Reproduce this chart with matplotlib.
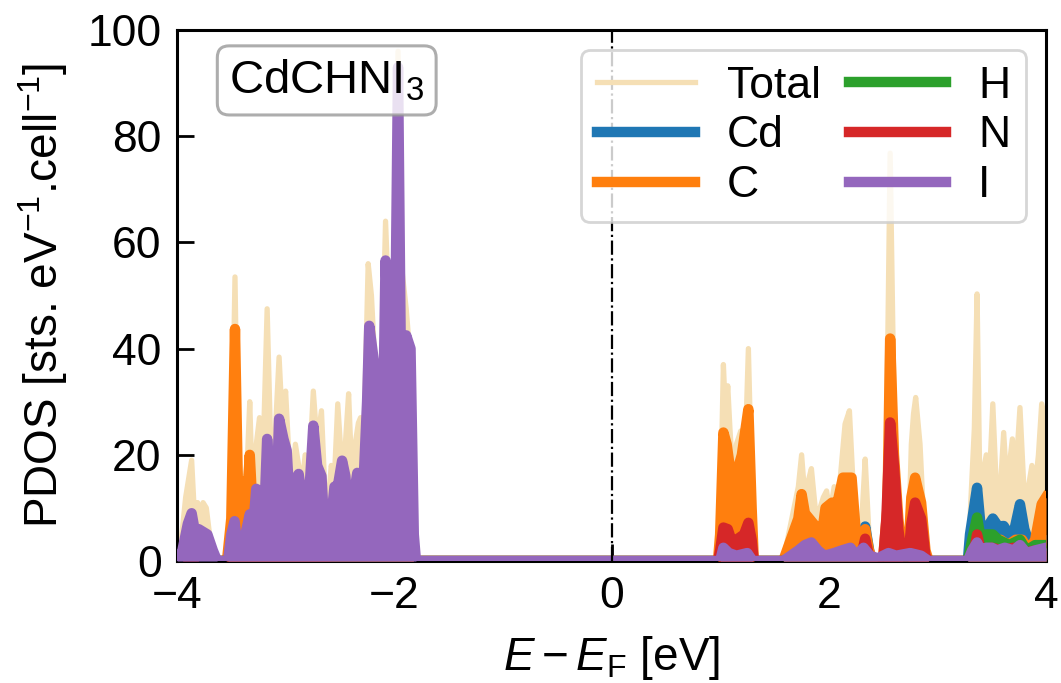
import numpy as np
import matplotlib
matplotlib.use("Agg")
import matplotlib.pyplot as plt

plt.rcParams['font.family'] = ['Liberation Sans', 'DejaVu Sans']
plt.rcParams['mathtext.fontset'] = 'custom'
plt.rcParams['mathtext.rm'] = 'Liberation Sans'
plt.rcParams['mathtext.it'] = 'Liberation Sans:italic'
plt.rcParams['mathtext.bf'] = 'Liberation Sans:bold'

# ---------------- data (energy [eV], PDOS) ----------------
total_E = [-4.0, -3.96, -3.92, -3.865, -3.84, -3.81, -3.79, -3.76, -3.73, -3.70, -3.66, -3.63,
           -3.54, -3.50, -3.466, -3.44, -3.41, -3.38, -3.35, -3.33, -3.31, -3.27, -3.24, -3.21,
           -3.17, -3.14, -3.11, -3.08, -3.06, -3.03, -3.0, -2.97, -2.94, -2.91, -2.88, -2.85,
           -2.82, -2.79, -2.745, -2.71, -2.67, -2.64, -2.61, -2.58, -2.55, -2.52, -2.49, -2.45,
           -2.42, -2.39, -2.36, -2.33, -2.31, -2.28, -2.24, -2.21, -2.18, -2.15, -2.12, -2.08,
           -2.04, -2.01, -1.965, -1.93, -1.89, -1.86, -1.83, -1.80,
           0.98, 1.0, 1.03, 1.05, 1.07, 1.09, 1.12, 1.15, 1.19, 1.23, 1.26, 1.29, 1.31,
           1.58, 1.65, 1.72, 1.75, 1.78, 1.81, 1.84, 1.88, 1.92, 1.95, 1.98, 2.01, 2.05, 2.09,
           2.12, 2.15, 2.19, 2.22, 2.25, 2.28, 2.31, 2.335, 2.37, 2.40, 2.50, 2.53, 2.565,
           2.60, 2.64, 2.68, 2.73, 2.76, 2.78, 2.80, 2.84, 2.88, 2.92,
           3.28, 3.30, 3.34, 3.365, 3.39, 3.42, 3.45, 3.48, 3.51, 3.54, 3.58, 3.61, 3.64,
           3.69, 3.72, 3.76, 3.80, 3.83, 3.87, 3.90, 3.93, 3.96, 4.0]
total = [0, 4, 12, 19, 9, 11, 8, 11, 10, 5, 2, 0,
         0, 12, 53.5, 18, 16, 12, 20, 30, 16, 22, 27, 18,
         47.5, 24, 18, 30, 38.4, 26, 32, 20, 14, 22, 18, 14,
         20, 14, 32, 22, 28.3, 14, 10, 18, 16, 29.6, 20, 22,
         31.5, 16, 22, 26, 27, 22, 56, 50, 38, 33, 30, 64,
         42, 50, 96, 55, 47.5, 40, 10, 0,
         0, 8, 37, 27, 33, 25, 15, 22, 24.5, 20, 40, 15, 0,
         0, 7, 14, 20, 12, 15, 17.4, 9, 10, 12, 13.2, 9, 14, 12,
         19, 25.8, 28.3, 16, 8, 2, 10, 19.2, 5, 0.5, 0.5, 20, 76.8,
         30, 10, 0.5, 0.5, 22, 27.7, 30.8, 22, 5, 0,
         0, 8, 25, 50.3, 15, 16.7, 20, 16, 29.6, 15, 14, 24.2, 14,
         23, 16, 28.9, 12, 13, 18, 14, 20, 29.6, 26]

cd_E = [-4.0, -3.55, -3.40, -3.30, -3.25, -3.20, -3.10, -3.0, -2.9, -2.8, -2.5, -2.3, -2.0, -1.82,
        1.58, 1.70, 1.75, 1.80, 1.85, 1.95, 2.05, 2.15, 2.22, 2.30, 2.335, 2.38, 2.45,
        3.28, 3.30, 3.365, 3.40, 3.45, 3.51, 3.56, 3.61, 3.66, 3.71, 3.76, 3.80, 3.85, 3.9, 4.0]
cd = [0, 0, 1, 3, 4, 3, 1.5, 2, 2.5, 1, 1.5, 1, 1, 0,
      0, 2, 4.4, 3, 1.5, 1, 2, 3, 2, 2, 6.5, 1, 0,
      0, 5, 13.8, 6, 6, 8, 6.5, 6.6, 5, 6, 10.7, 6, 3, 4, 5]

c_E = [-4.0, -3.54, -3.50, -3.466, -3.44, -3.40, -3.37, -3.33, -3.30, -3.26, -3.2, -3.1, -3.0,
       -2.9, -2.8, -2.6, -2.59, -2.55, -2.45, -2.40, -2.35, -2.28, -2.22, -2.15, -2.10, -2.0,
       -1.9, -1.82,
       0.98, 1.0, 1.03, 1.06, 1.09, 1.12, 1.15, 1.20, 1.26, 1.29, 1.31,
       1.58, 1.65, 1.72, 1.75, 1.78, 1.84, 1.90, 1.93, 1.97, 2.03, 2.07, 2.13, 2.21, 2.25,
       2.28, 2.31, 2.335, 2.37, 2.40, 2.50, 2.54, 2.565, 2.60, 2.64, 2.68, 2.73, 2.76, 2.795,
       2.85, 2.89, 2.92,
       3.28, 3.34, 3.40, 3.50, 3.58, 3.65, 3.72, 3.78, 3.84, 3.90, 3.96, 4.0]
c = [0, 0, 8, 43.7, 15, 15, 6, 20, 8, 4, 3, 2, 3,
     3.5, 1, 2, 8, 3, 4, 6.6, 4, 4, 5, 6, 4, 2,
     1, 0,
     0, 5, 24.2, 22, 17.5, 12.6, 16.4, 20, 28.6, 10, 0,
     0, 4, 8, 12.6, 9, 7.5, 6, 4, 10, 11, 10, 15.7, 15.7, 5,
     1, 4, 6, 2, 0.5, 0.5, 10, 41.9, 20, 8, 0.5, 0.5, 12, 15.7,
     11, 2, 0,
     0, 2, 2.5, 3, 4, 3, 4, 4, 2, 4, 10.7, 12]

h_E = [-4.0, -2.6, -2.5, -2.4, -2.3, -2.2, -2.1, -2.0, -1.82,
       1.6, 1.75, 1.85, 2.1, 2.2, 2.3,
       3.28, 3.32, 3.365, 3.40, 3.45, 3.51, 3.56, 3.61, 3.66, 3.71, 3.76, 3.82, 3.9, 4.0]
h = [0, 0, 0.5, 0.3, 1, 0.4, 0.8, 0.3, 0,
     0, 0.5, 0.3, 0.5, 0.8, 0,
     0, 4, 8.2, 4, 5, 5, 4, 3.5, 3, 3.5, 4, 2, 3, 3]

n_E = [-4.0, -3.95, -3.87, -3.80, -3.55, -3.45, -3.35, -3.25, -3.15, -3.05, -2.95, -2.85, -2.7,
       -2.5, -2.40, -2.35, -2.30, -2.25, -2.18, -2.12, -2.05, -2.0, -1.9, -1.82,
       0.98, 1.0, 1.03, 1.07, 1.11, 1.15, 1.22, 1.26, 1.29, 1.31,
       1.58, 1.75, 1.85, 1.95, 2.30, 2.335, 2.37, 2.50, 2.53, 2.565, 2.60, 2.64, 2.68,
       2.73, 2.76, 2.795, 2.85, 2.89, 2.92,
       3.28, 3.34, 3.365, 3.40, 3.5, 3.6, 3.7, 3.8, 3.9, 4.0]
n = [0, 0, 1.5, 0, 0, 2, 3, 2, 3, 2, 1, 2, 1,
     2, 5, 4.5, 3.5, 4.5, 5, 4.5, 3, 4, 1, 0,
     0, 2, 6.3, 6, 3.5, 4, 5, 7.2, 4, 0,
     0, 0.5, 1.5, 0.5, 1, 4.2, 1, 0, 8, 26.1, 18, 6, 0,
     0, 7, 11, 8, 1, 0,
     0, 2, 5, 2, 2.5, 2, 2.5, 1.5, 2, 2]

i_E = [-4.0, -3.95, -3.90, -3.865, -3.83, -3.80, -3.76, -3.72, -3.67, -3.63, -3.53, -3.50,
       -3.47, -3.44, -3.40, -3.37, -3.33, -3.30, -3.27, -3.23, -3.21, -3.17, -3.13, -3.11,
       -3.08, -3.06, -3.02, -2.99, -2.96, -2.94, -2.92, -2.88, -2.85, -2.82, -2.79, -2.745,
       -2.71, -2.67, -2.64, -2.61, -2.58, -2.55, -2.52, -2.48, -2.45, -2.42, -2.39, -2.36,
       -2.34, -2.31, -2.28, -2.25, -2.23, -2.19, -2.16, -2.13, -2.10, -2.08, -2.05, -2.02,
       -1.99, -1.965, -1.94, -1.91, -1.89, -1.85, -1.82, -1.80,
       1.0, 1.03, 1.08, 1.15, 1.25, 1.30, 1.58, 1.65, 1.72, 1.78, 1.84, 1.90, 1.96, 2.05,
       2.12, 2.20, 2.25, 2.32, 2.38, 2.45, 2.55, 2.62, 2.75, 2.85, 2.92,
       3.28, 3.32, 3.365, 3.40, 3.45, 3.5, 3.55, 3.62, 3.7, 3.76, 3.82, 3.9, 4.0]
i_vals = [0, 2, 7, 9, 5, 6, 5.5, 5, 2, 0, 0, 5,
          7.5, 2, 0.5, 5, 8.8, 6, 13.6, 13, 1, 23, 12, 4,
          14, 26.8, 23, 20.8, 10, 2, 15, 16.4, 12, 2, 10, 25.5,
          18, 16, 5, 1, 8, 14, 14, 18.9, 16, 8, 2, 14,
          16.6, 10, 16, 30, 44.3, 38, 30, 5, 30, 56.6, 40, 30,
          45, 93, 40, 30, 42.5, 40, 5, 0,
          0, 2.5, 1.5, 1, 1.5, 0, 0, 1, 2, 3, 3.5, 2, 1, 1.5,
          2, 2.5, 1, 2.5, 1, 0.5, 1.5, 1, 1.5, 1, 0,
          0, 2, 3.5, 2, 2.5, 2.5, 2, 2.5, 2, 3, 1.5, 2, 2.5]

labels = ['Total', 'Cd', 'C', 'H', 'N', 'I']
colors = ['#f5dfb5', '#1f77b4', '#ff7f0e', '#2ca02c', '#d62728', '#9467bd']


def full_range(E, v):
    E = list(E); v = list(v)
    if E[0] > -4.0:
        E = [-4.0] + E; v = [0] + v
    if E[-1] < 4.0:
        E = E + [4.0]; v = v + [0]
    return np.array(E), np.array(v)


series = [(total_E, total), (cd_E, cd), (c_E, c), (h_E, h), (n_E, n), (i_E, i_vals)]

fig, ax = plt.subplots(figsize=(10.61, 6.83), dpi=100)
fig.subplots_adjust(left=0.1668, right=0.9859, bottom=0.1786, top=0.956)

for k, ((E, v), lab, col) in enumerate(zip(series, labels, colors)):
    Ex, vx = full_range(E, v)
    lw = 3.8 if lab == 'Total' else 7.5
    ax.fill_between(Ex, 0, vx, color=col, lw=0, zorder=2 + k)
    ax.plot(Ex, vx, color=col, lw=lw, label=lab, zorder=2 + k)

ax.axvline(0, color='k', ls='-.', lw=1.6, zorder=10)

ax.set_xlim(-4, 4)
ax.set_ylim(0, 100)
ax.set_xticks([-4, -2, 0, 2, 4])
ax.set_xticklabels(['\u22124', '\u22122', '0', '2', '4'])
ax.set_yticks([0, 20, 40, 60, 80, 100])
ax.tick_params(direction='in', length=12, width=2, labelsize=32)
ax.tick_params(axis='x', pad=11)
ax.tick_params(axis='y', pad=11)
for sp in ax.spines.values():
    sp.set_linewidth(2.2)

ax.set_xlabel(r'$E - E_{\mathrm{F}}$ [eV]', fontsize=33, labelpad=12)
ax.set_ylabel(r'PDOS [sts. eV$^{-1}$.cell$^{-1}$]', fontsize=33, labelpad=13)

leg = ax.legend(ncol=2, loc='upper right', fontsize=32, handlelength=2.2,
                handletextpad=0.72, columnspacing=0.63, labelspacing=0.2,
                borderpad=0.35, borderaxespad=0.45, fancybox=True, framealpha=0.8)
leg.get_frame().set_edgecolor('0.8')
leg.get_frame().set_linewidth(2)
leg.set_zorder(20)

ax.text(0.06, 0.948, r'CdCHNI$_3$', transform=ax.transAxes, fontsize=34,
        ha='left', va='top', zorder=21,
        bbox=dict(boxstyle='round,pad=0.25', facecolor='white', edgecolor='0.6',
                  linewidth=2.2, alpha=0.8))

fig.savefig('out.png', dpi=100)
